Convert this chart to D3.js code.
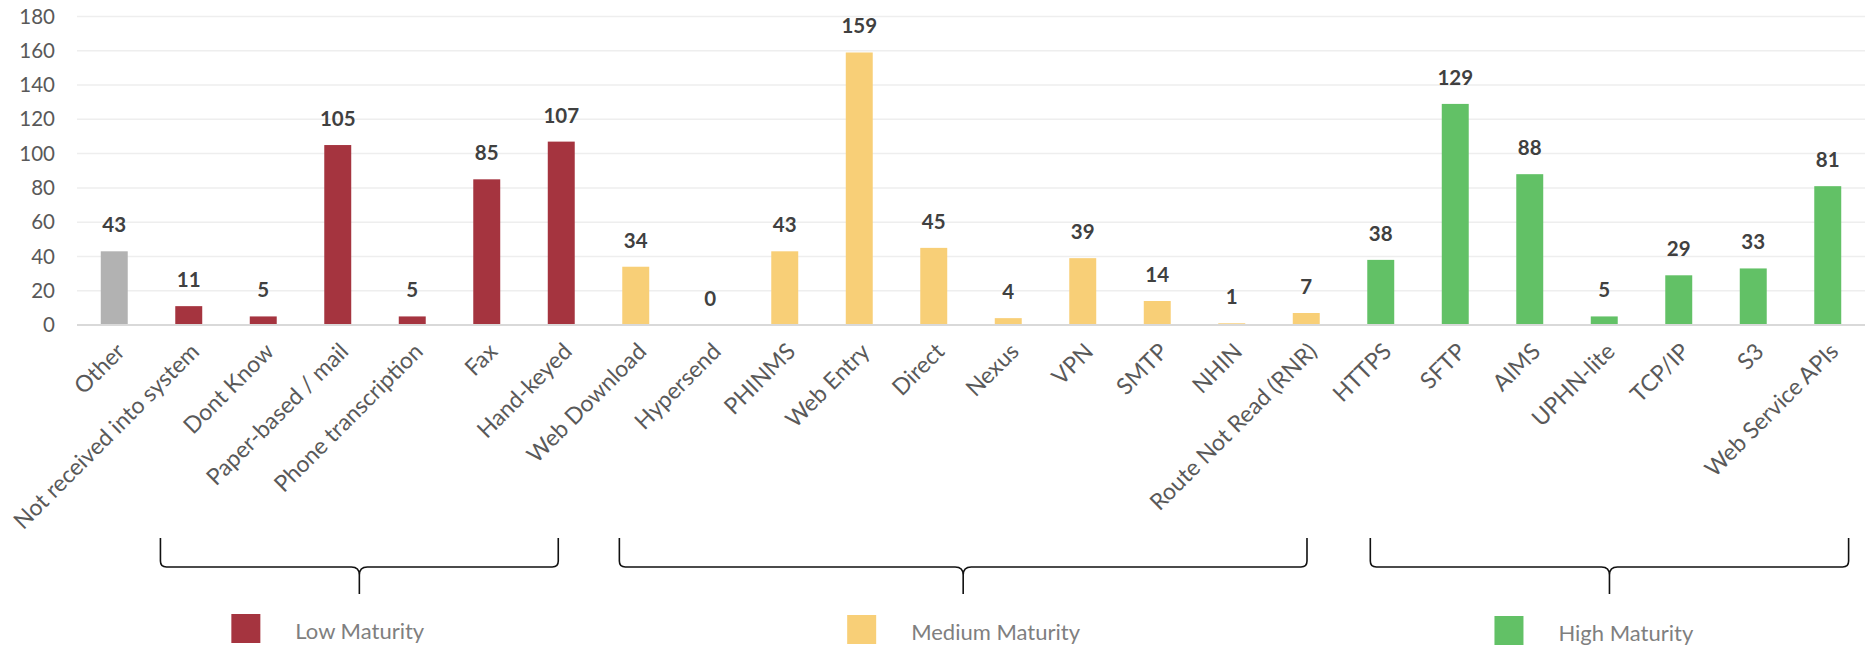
<!DOCTYPE html>
<html>
<head>
<meta charset="utf-8">
<script src="https://cdn.jsdelivr.net/npm/d3@7/dist/d3.min.js"></script>
<style>
  html, body { margin: 0; padding: 0; background: #ffffff; }
  svg { display: block; font-family: Lato, "Open Sans", sans-serif; }
</style>
</head>
<body>
<svg id="chart" width="1865" height="650"></svg>
<script>
// Transport methods and how many reports arrive through each
const categories = [
  "Other", "Not received into system", "Dont Know", "Paper-based / mail",
  "Phone transcription", "Fax", "Hand-keyed",
  "Web Download", "Hypersend", "PHINMS", "Web Entry", "Direct", "Nexus",
  "VPN", "SMTP", "NHIN", "Route Not Read (RNR)",
  "HTTPS", "SFTP", "AIMS", "UPHN-lite", "TCP/IP", "S3", "Web Service APIs"
];
const values = [
  43, 11, 5, 105, 5, 85, 107,
  34, 0, 43, 159, 45, 4, 39, 14, 1, 7,
  38, 129, 88, 5, 29, 33, 81
];
const maturity = [
  "Other", "Low", "Low", "Low", "Low", "Low", "Low",
  "Medium", "Medium", "Medium", "Medium", "Medium", "Medium", "Medium", "Medium", "Medium", "Medium",
  "High", "High", "High", "High", "High", "High", "High"
];
const groups = ["Low", "Medium", "High"];
const groupLabels = ["Low Maturity", "Medium Maturity", "High Maturity"];
const yTicks = [0, 20, 40, 60, 80, 100, 120, 140, 160, 180];

const colors = {
  Other: "#b2b2b2",
  Low: "#a5343f",
  Medium: "#f8cf77",
  High: "#62c166"
};

const svg = d3.select("#chart");

const x = d3.scaleBand()
  .domain(categories)
  .range([77, 1865])
  .paddingInner(0.638)
  .paddingOuter(0.319);

const y = d3.scaleLinear()
  .domain([0, 180])
  .range([325, 16.5]);

const step = x.step();
const cx = c => x(c) + x.bandwidth() / 2;

// Horizontal gridlines
svg.append("g")
  .selectAll("line")
  .data(yTicks.filter(t => t > 0))
  .join("line")
  .attr("x1", 77).attr("x2", 1865)
  .attr("y1", d => y(d)).attr("y2", d => y(d))
  .attr("stroke", "#eeeeee")
  .attr("stroke-width", 1.5);

// Value axis labels
const yAxis = d3.axisLeft(y).tickValues(yTicks).tickSize(0).tickPadding(0);
const yg = svg.append("g").attr("transform", "translate(55,0)").call(yAxis);
yg.select(".domain").remove();
yg.selectAll("text")
  .attr("font-family", "Lato, sans-serif")
  .attr("font-size", 20.5)
  .attr("fill", "#595959");

// Bars
svg.append("g")
  .selectAll("rect")
  .data(categories)
  .join("rect")
  .attr("x", d => x(d))
  .attr("width", x.bandwidth())
  .attr("y", (d, i) => y(values[i]))
  .attr("height", (d, i) => y(0) - y(values[i]))
  .attr("fill", (d, i) => colors[maturity[i]]);

// Baseline
svg.append("line")
  .attr("x1", 77).attr("x2", 1865)
  .attr("y1", y(0)).attr("y2", y(0))
  .attr("stroke", "#d9d9d9")
  .attr("stroke-width", 2);

// Value labels above bars
svg.append("g")
  .selectAll("text")
  .data(categories)
  .join("text")
  .attr("x", d => cx(d))
  .attr("y", (d, i) => y(values[i]) - 19)
  .attr("text-anchor", "middle")
  .attr("font-size", 20.5)
  .attr("font-weight", 700)
  .attr("fill", "#404040")
  .text((d, i) => values[i]);

// Category labels, slanted
svg.append("g")
  .selectAll("text")
  .data(categories)
  .join("text")
  .attr("transform", d => `translate(${cx(d) + 12},353) rotate(-45)`)
  .attr("text-anchor", "end")
  .attr("font-size", 23)
  .attr("fill", "#595959")
  .text(d => d);

// Group braces beneath the labels
const braceSpans = [
  { first: 1, last: 6, padL: 0.38, padR: -0.04, legendDx: -128 },
  { first: 7, last: 16, padL: 0.22, padR: 0.01, legendDx: -116 },
  { first: 17, last: 23, padL: 0.14, padR: 0.28, legendDx: -115 }
];
const yTop = 538, yMid = 567, yTip = 594, r = 6, c = 8;

const braceG = svg.append("g");
const legendG = svg.append("g");

braceSpans.forEach((b, gi) => {
  const L = cx(categories[b.first]) - b.padL * step;
  const R = cx(categories[b.last]) + b.padR * step;
  const m = (L + R) / 2;
  const p = d3.path();
  p.moveTo(L, yTop);
  p.lineTo(L, yMid - r);
  p.quadraticCurveTo(L, yMid, L + r, yMid);
  p.lineTo(m - c, yMid);
  p.quadraticCurveTo(m, yMid, m, yMid + c);
  p.lineTo(m, yTip);
  p.moveTo(m, yMid + c);
  p.quadraticCurveTo(m, yMid, m + c, yMid);
  p.lineTo(R - r, yMid);
  p.quadraticCurveTo(R, yMid, R, yMid - r);
  p.lineTo(R, yTop);
  braceG.append("path")
    .attr("d", p.toString())
    .attr("fill", "none")
    .attr("stroke", "#111111")
    .attr("stroke-width", 1.6);

  const sx = m + b.legendDx;
  legendG.append("rect")
    .attr("x", sx).attr("y", 614 + gi)
    .attr("width", 29).attr("height", 29)
    .attr("fill", colors[groups[gi]]);
  legendG.append("text")
    .attr("x", sx + 64).attr("y", 639 + gi)
    .attr("font-size", 22)
    .attr("fill", "#7f7f7f")
    .text(groupLabels[gi]);
});
</script>
</body>
</html>
